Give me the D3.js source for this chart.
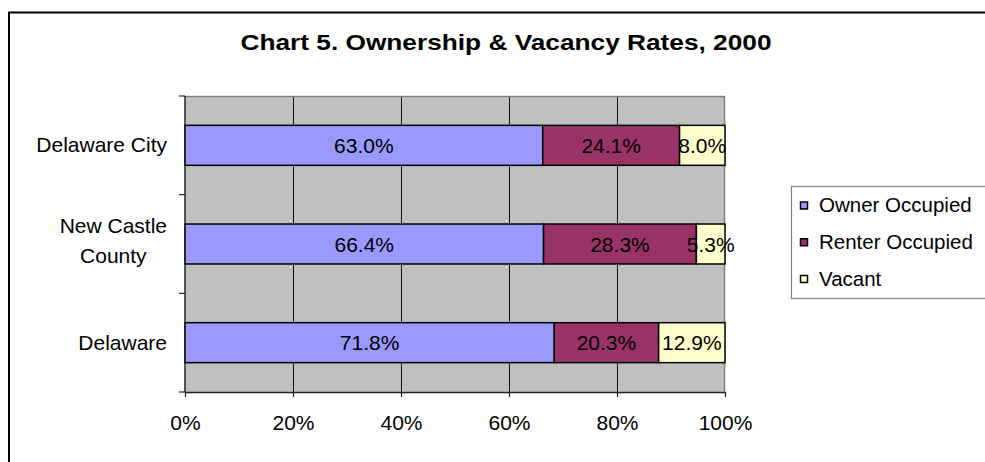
<!DOCTYPE html>
<html>
<head>
<meta charset="utf-8">
<script src="https://cdn.jsdelivr.net/npm/d3@7"></script>
<style>
	html, body { margin: 0; padding: 0; background: #fff; }
	svg { display: block; font-family: "Liberation Sans", Arial, sans-serif; }
</style>
</head>
<body>
<div id="chart"></div>
<script>
'use strict';

// values
const categories = ["Delaware City", "New Castle County", "Delaware"];
const seriesNames = ["Owner Occupied", "Renter Occupied", "Vacant"];
const owner = [63.0, 66.4, 71.8];
const renter = [24.1, 28.3, 20.3];
const vacant = [8.0, 5.3, 12.9];
const xTicks = [0, 20, 40, 60, 80, 100];
const colors = ["#9999FF", "#993366", "#FFFFCC"];
const title = "Chart 5. Ownership & Vacancy Rates, 2000";

const width = 985, height = 462;
const plot = { left: 185, right: 725, top: 96, bottom: 392 };

const rows = categories.map((c, i) => ({
	cat: c,
	"Owner Occupied": owner[i],
	"Renter Occupied": renter[i],
	"Vacant": vacant[i]
}));

// 100% stacked bars (each row rescaled to its own total)
const stacked = d3.stack()
	.keys(seriesNames)
	.offset(d3.stackOffsetExpand)(rows);

const svg = d3.select("#chart")
	.append("svg")
		.attr("width", width)
		.attr("height", height);

// outer chart border
svg.append("rect")
	.attr("x", 9).attr("y", 12.5)
	.attr("width", 1000).attr("height", 500)
	.attr("fill", "#fff")
	.attr("stroke", "#000")
	.attr("stroke-width", 2);

svg.append("text")
	.attr("x", 506)
	.attr("y", 50)
	.attr("text-anchor", "middle")
	.attr("font-size", 22)
	.attr("font-weight", "bold")
	.attr("textLength", 531)
	.attr("lengthAdjust", "spacingAndGlyphs")
	.text(title);

const xScale = d3.scaleLinear()
	.domain([0, 1])
	.range([plot.left, plot.right]);

const yScale = d3.scaleBand()
	.domain(categories)
	.range([plot.top, plot.bottom])
	.paddingInner(0.595)
	.paddingOuter(0.2975);

// plot background
svg.append("rect")
	.attr("x", plot.left).attr("y", plot.top)
	.attr("width", plot.right - plot.left)
	.attr("height", plot.bottom - plot.top)
	.attr("fill", "#C0C0C0");

// gridlines
svg.append("g")
	.selectAll("line")
	.data(xTicks.slice(1, -1))
	.join("line")
		.attr("x1", d => xScale(d / 100) + 0.5)
		.attr("x2", d => xScale(d / 100) + 0.5)
		.attr("y1", plot.top)
		.attr("y2", plot.bottom)
		.attr("stroke", "#111")
		.attr("stroke-width", 1);

// plot border top / right
svg.append("path")
	.attr("d", `M${plot.left},${plot.top + 0.5}H${plot.right - 0.5}V${plot.bottom}`)
	.attr("fill", "none")
	.attr("stroke", "#808080")
	.attr("stroke-width", 1.5);

// bars
const layers = svg.append("g")
	.selectAll("g")
	.data(stacked)
	.join("g")
		.attr("fill", (d, i) => colors[i]);

layers.selectAll("rect")
	.data(d => d)
	.join("rect")
		.attr("x", d => xScale(d[0]))
		.attr("width", d => xScale(d[1]) - xScale(d[0]))
		.attr("y", d => yScale(d.data.cat))
		.attr("height", yScale.bandwidth())
		.attr("stroke", "#000")
		.attr("stroke-width", 1.5);

// data labels (original values, centred in each segment)
layers.each(function(layer) {
	d3.select(this).selectAll("text")
		.data(layer)
		.join("text")
			.attr("x", d => (xScale(d[0]) + xScale(d[1])) / 2)
			.attr("y", d => yScale(d.data.cat) + yScale.bandwidth() / 2 + 7.5)
			.attr("text-anchor", "middle")
			.attr("font-size", 21)
			.attr("fill", "#000")
			.text(d => d.data[layer.key].toFixed(1) + "%");
});

// y axis line + ticks at category boundaries
const bounds = categories.map(c => yScale(c) - yScale.step() * yScale.paddingInner() / 2);
bounds.push(plot.bottom);
svg.append("line")
	.attr("x1", plot.left).attr("x2", plot.left)
	.attr("y1", plot.top).attr("y2", plot.bottom)
	.attr("stroke", "#222").attr("stroke-width", 1.5);
svg.append("g")
	.selectAll("line")
	.data(bounds)
	.join("line")
		.attr("x1", plot.left - 6).attr("x2", plot.left)
		.attr("y1", d => d).attr("y2", d => d)
		.attr("stroke", "#222").attr("stroke-width", 1.2);

// x axis
const xAxis = svg.append("g")
	.attr("transform", `translate(0,${plot.bottom})`)
	.call(d3.axisBottom(xScale)
		.tickValues(xTicks.map(d => d / 100))
		.tickSize(5)
		.tickSizeOuter(0)
		.tickPadding(18)
		.tickFormat(d => Math.round(d * 100) + "%"));
xAxis.select(".domain").attr("stroke", "#222").attr("stroke-width", 1.7);
xAxis.selectAll(".tick line").attr("stroke", "#222").attr("stroke-width", 1.2);
xAxis.selectAll("text")
	.attr("font-size", 21)
	.attr("font-family", "Liberation Sans, Arial, sans-serif")
	.attr("fill", "#000");

// category labels, wrapped like the original
const labelRight = 167, maxLine = 140, lineH = 29.7;
const catLabels = svg.append("g")
	.attr("font-size", 21)
	.attr("fill", "#000");

categories.forEach(c => {
	const t = catLabels.append("text").attr("text-anchor", "middle");
	const words = c.split(" ");
	const lines = [];
	let cur = [];
	const probe = catLabels.append("text");
	words.forEach(w => {
		probe.text(cur.concat(w).join(" "));
		if (cur.length && probe.node().getComputedTextLength() > maxLine) {
			lines.push(cur.join(" "));
			cur = [w];
		} else {
			cur.push(w);
		}
	});
	lines.push(cur.join(" "));
	const widest = d3.max(lines, l => { probe.text(l); return probe.node().getComputedTextLength(); });
	probe.remove();
	const cx = labelRight - widest / 2;
	const cy = yScale(c) + yScale.bandwidth() / 2 + 7 - (lines.length - 1) * 3;
	lines.forEach((l, i) => {
		t.append("tspan")
			.attr("x", cx)
			.attr("y", cy + (i - (lines.length - 1) / 2) * lineH)
			.text(l);
	});
});

// legend
const legend = svg.append("g");
legend.append("rect")
	.attr("x", 791.5).attr("y", 186.5)
	.attr("width", 300).attr("height", 112)
	.attr("fill", "#fff")
	.attr("stroke", "#808080")
	.attr("stroke-width", 1.2);

const legendY = d3.scalePoint()
	.domain(seriesNames)
	.range([205.5, 279]);

const items = legend.selectAll("g.item")
	.data(seriesNames)
	.join("g")
		.attr("class", "item")
		.attr("transform", d => `translate(800,${legendY(d)})`);

items.append("rect")
	.attr("x", 0.5).attr("y", -3.5)
	.attr("width", 7).attr("height", 7)
	.attr("fill", (d, i) => colors[i])
	.attr("stroke", "#000")
	.attr("stroke-width", 1.5);

items.append("text")
	.attr("x", 19)
	.attr("y", 6.5)
	.attr("font-size", 20.5)
	.attr("fill", "#000")
	.text(d => d);
</script>
</body>
</html>
